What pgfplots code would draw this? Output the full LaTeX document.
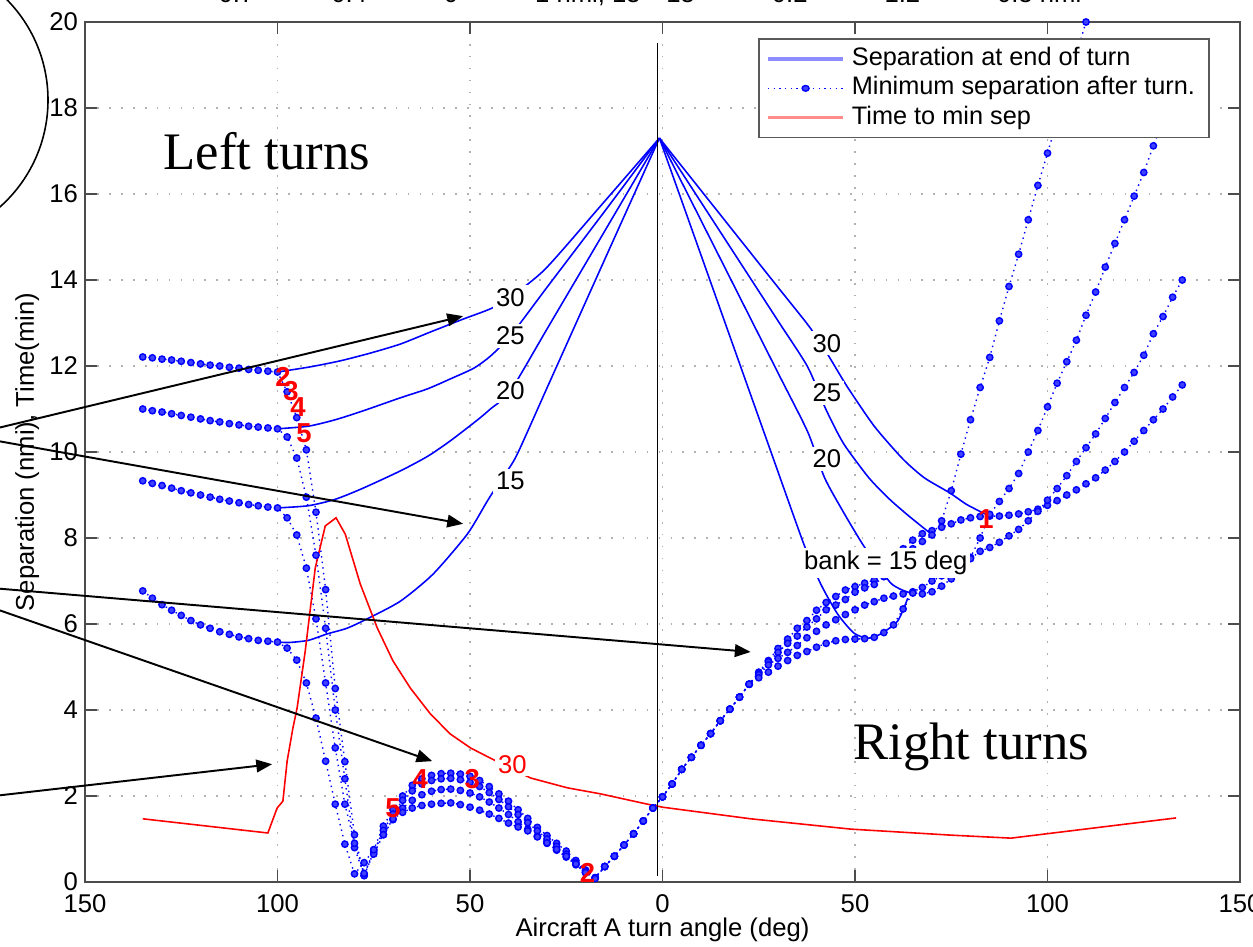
\documentclass[border=0pt]{standalone}
\usepackage{fontspec}
\setmainfont{Liberation Sans}
\newfontfamily\timesfont{Liberation Serif}
\usepackage{pgfplots}
\pgfplotsset{compat=1.18}
\usetikzlibrary{arrows.meta}

\newcommand{\fs}{\fontsize{7.3}{8.5}\selectfont}

\pgfplotsset{
  sepend/.style={blue, line width=0.45pt, smooth, tension=0.4, forget plot},
  minsep/.style={blue, line width=0.4pt, dash pattern=on 0.4pt off 1.2pt,
    mark=*, mark size=0.9pt, mark options={solid, fill=blue!75, draw=blue}, forget plot},
}
\tikzset{
  curvelab/.style={fill=white, inner sep=0.8pt, font=\fs},
  rednum/.style={red, font=\fontsize{7.8}{9}\selectfont\bfseries, inner sep=0pt},
}

\begin{document}
\begin{tikzpicture}
\useasboundingbox (-0.85,-0.64) rectangle (11.68,8.82);
\clip (-0.85,-0.64) rectangle (11.68,8.82);
\begin{axis}[
  scale only axis,
  width=11.55cm, height=8.6cm,
  xmin=-150, xmax=150, ymin=0, ymax=20,
  xtick={-150,-100,...,150},
  xticklabels={150,100,50,0,50,100,150},
  ytick={0,2,...,20},
  tick align=inside, tick pos=both,
  major tick length=0.12cm,
  tick style={black!70, line width=0.5pt},
  axis line style={black!70, line width=0.6pt},
  grid=major,
  grid style={gray!60, line width=0.5pt, dash pattern=on 0.5pt off 2.9pt},
  tick label style={font=\fs},
  yticklabel style={xshift=1.5pt},
  label style={font=\fs},
  /pgf/number format/assume math mode=true,
  xlabel={Aircraft A turn angle (deg)},
  ylabel={Separation (nmi), Time(min)},
  xlabel style={at={(axis description cs:0.5,-0.056)}, anchor=center},
  ylabel style={at={(axis description cs:-0.050,0.5)}, anchor=center},
  legend style={at={(0.974,0.981)}, anchor=north east,
    font=\fontsize{7.2}{8}\selectfont, draw=black!65, line width=0.5pt,
    fill=white, inner xsep=2pt, inner ysep=1.5pt,
    nodes={inner ysep=0.8pt}},
  legend cell align=left,
  legend image post style={xscale=1.25},
]

% separation at end of turn, left turns
\addplot[sepend] coordinates {(-100,11.86)(-91.5,11.98)(-83.7,12.12)(-75.9,12.3)(-68.1,12.51)(-60.3,12.79)(-51.8,13.09)(-44.7,13.33)(-39.5,13.6)(-30.4,14.26)(-16.1,15.72)(-0.8,17.3)};
\addplot[sepend] coordinates {(-100,10.54)(-92,10.6)(-85,10.75)(-78,10.95)(-68.1,11.26)(-61,11.47)(-55.1,11.7)(-49,11.95)(-44.7,12.23)(-39.5,12.7)(-30,13.83)(-15,15.6)(-0.8,17.3)};
\addplot[sepend] coordinates {(-100,8.7)(-92,8.75)(-85,8.9)(-78,9.15)(-68.1,9.56)(-61,9.9)(-55.1,10.26)(-48,10.75)(-44.7,11.0)(-39.5,11.42)(-30,12.86)(-15,15.14)(-0.8,17.3)};
\addplot[sepend] coordinates {(-100,5.58)(-97,5.57)(-92,5.62)(-87.1,5.77)(-82,5.9)(-76.7,6.12)(-68.1,6.53)(-59.6,7.16)(-50.7,8.09)(-45.5,8.86)(-42,9.35)(-38,9.9)(-30,11.49)(-15,14.48)(-0.8,17.3)};
% separation at end of turn, right turns
\addplot[sepend] coordinates {(-0.8,17.3)(15,15.52)(30,13.83)(38,12.93)(42.7,12.3)(47.9,11.53)(55,10.6)(62.4,9.84)(68,9.4)(74.6,9.05)(79,8.78)(84,8.55)};
\addplot[sepend] coordinates {(-0.8,17.3)(15,15.12)(30,13.05)(37.7,11.98)(42.4,11.0)(47,10.2)(53.6,9.4)(59,8.9)(64,8.51)(69.4,8.12)};
\addplot[sepend] coordinates {(-0.8,17.3)(15,14.5)(30,11.84)(37.7,10.47)(42.1,9.4)(47,8.6)(51.8,7.88)(55.5,7.4)(59.3,6.95)(62,6.8)(64.5,6.72)};
\addplot[sepend] coordinates {(-0.8,17.3)(15,13.32)(28.1,10.02)(36.7,7.86)(41.1,6.93)(45.5,6.23)(49.7,5.79)(53.3,5.67)(56.7,5.77)(61.1,6.07)(63.7,6.6)};

% minimum separation after turn, bank 30
\addplot[minsep] coordinates {(-135,12.21)(-132.5,12.19)(-130,12.16)(-127.5,12.14)(-125,12.11)(-122.5,12.08)(-120,12.05)(-117.5,12.02)(-115,12.0)(-112.5,11.97)(-110,11.95)(-107.5,11.92)(-105,11.9)(-102.5,11.88)(-100,11.86)
(-97.5,11.4)(-95,10.8)(-92.5,10.05)(-90,8.6)(-87.5,6.8)(-85,4.5)(-82.5,2.8)(-80,1.1)(-77.5,0.15)
(-75,0.75)(-72.5,1.3)(-70,1.68)(-67.5,2.0)(-65,2.25)(-62.5,2.4)(-60,2.48)(-57.5,2.52)(-55,2.53)(-52.5,2.51)(-50,2.46)(-47.5,2.36)(-45,2.22)(-42.5,2.05)(-40,1.88)(-37.5,1.68)(-35,1.48)(-32.5,1.27)(-30,1.08)(-27.5,0.9)(-25,0.72)(-22.5,0.5)(-20,0.28)(-17.5,0.1)
(-15,0.36)(-12.5,0.6)(-10,0.86)(-7.5,1.12)(-5,1.42)(-2.5,1.72)(0,1.98)(2.5,2.28)(5,2.62)(7.5,2.9)(10,3.18)(12.5,3.45)(15,3.75)(17.5,4.02)(20,4.3)(22.5,4.6)
(25,4.88)(27.5,5.15)(30,5.43)(32.5,5.65)(35,5.9)(37.5,6.08)(40,6.32)(42.5,6.5)(45,6.64)(47.5,6.79)(50,6.87)(52.5,6.95)(55,7.02)(57.5,7.18)(60,7.52)(62.5,7.75)(65,7.95)(67.5,8.1)(70,8.17)(72.5,8.25)(75,8.33)(77.5,8.42)(80,8.47)(82.5,8.5)(85,8.51)
(87.5,8.51)(90,8.53)(92.5,8.56)(95,8.61)(97.5,8.67)(100,8.76)(102.5,8.87)(105,9.0)(107.5,9.12)(110,9.26)(112.5,9.4)(115,9.58)(117.5,9.78)(120,10.0)(122.5,10.25)(125,10.5)(127.5,10.75)(130,11.0)(132.5,11.28)(135,11.56)};
% bank 25
\addplot[minsep] coordinates {(-135,11.0)(-132.5,10.96)(-130,10.93)(-127.5,10.89)(-125,10.85)(-122.5,10.81)(-120,10.77)(-117.5,10.73)(-115,10.7)(-112.5,10.66)(-110,10.63)(-107.5,10.6)(-105,10.58)(-102.5,10.56)(-100,10.54)
(-97.5,10.35)(-95,9.86)(-92.5,8.95)(-90,7.6)(-87.5,5.9)(-85,4.0)(-82.5,2.4)(-80,0.8)(-77.5,0.15)
(-75,0.7)(-72.5,1.2)(-70,1.58)(-67.5,1.9)(-65,2.12)(-62.5,2.28)(-60,2.36)(-57.5,2.4)(-55,2.41)(-52.5,2.38)(-50,2.32)(-47.5,2.22)(-45,2.08)(-42.5,1.92)(-40,1.75)(-37.5,1.57)(-35,1.38)(-32.5,1.19)(-30,1.0)(-27.5,0.83)(-25,0.65)(-22.5,0.45)(-20,0.25)(-17.5,0.1)
(-15,0.36)(-12.5,0.6)(-10,0.86)(-7.5,1.12)(-5,1.42)(-2.5,1.72)(0,1.98)(2.5,2.28)(5,2.62)(7.5,2.9)(10,3.18)(12.5,3.45)(15,3.75)(17.5,4.02)(20,4.3)(22.5,4.6)
(25,4.86)(27.5,5.12)(30,5.34)(32.5,5.55)(35,5.72)(37.5,5.93)(40,6.12)(42.5,6.33)(45,6.44)(47.5,6.57)(50,6.74)(52.5,6.84)(55,6.92)(57.5,7.1)(60,7.3)(62.5,7.55)(65,7.75)(67.5,7.92)(70,8.07)(72.5,8.4)
(75,9.1)(77.5,9.95)(80,10.75)(82.5,11.5)(85,12.2)(87.5,13.05)(90,13.85)(92.5,14.6)(95,15.4)(97.5,16.2)(100,16.95)(102.5,17.7)(105,18.45)(107.5,19.25)(110,20.0)(112.5,20.75)};
% bank 20
\addplot[minsep] coordinates {(-135,9.33)(-132.5,9.27)(-130,9.22)(-127.5,9.16)(-125,9.1)(-122.5,9.05)(-120,9.0)(-117.5,8.95)(-115,8.9)(-112.5,8.86)(-110,8.82)(-107.5,8.78)(-105,8.75)(-102.5,8.72)(-100,8.7)
(-97.5,8.47)(-95,8.07)(-92.5,7.3)(-90,6.12)(-87.5,4.63)(-85,3.12)(-82.5,1.81)(-80,0.9)(-77.5,0.2)
(-75,0.65)(-72.5,1.1)(-70,1.45)(-67.5,1.72)(-65,1.9)(-62.5,2.03)(-60,2.11)(-57.5,2.15)(-55,2.16)(-52.5,2.13)(-50,2.07)(-47.5,1.98)(-45,1.86)(-42.5,1.72)(-40,1.57)(-37.5,1.4)(-35,1.23)(-32.5,1.06)(-30,0.9)(-27.5,0.74)(-25,0.58)(-22.5,0.4)(-20,0.22)(-17.5,0.1)
(-15,0.36)(-12.5,0.6)(-10,0.86)(-7.5,1.12)(-5,1.42)(-2.5,1.72)(0,1.98)(2.5,2.28)(5,2.62)(7.5,2.9)(10,3.18)(12.5,3.45)(15,3.75)(17.5,4.02)(20,4.3)(22.5,4.6)
(25,4.82)(27.5,5.05)(30,5.2)(32.5,5.34)(35,5.5)(37.5,5.68)(40,5.83)(42.5,5.98)(45,6.1)(47.5,6.22)(50,6.33)(52.5,6.44)(55,6.52)(57.5,6.6)(60,6.65)(62.5,6.7)(65,6.75)(67.5,6.85)(70,7.0)(72.5,7.12)(75,7.25)(77.5,7.38)(80,7.55)(82.5,8.0)
(85,8.55)(87.5,8.85)(90,9.15)(92.5,9.5)(95,10.0)(97.5,10.5)(100,11.05)(102.5,11.6)(105,12.1)(107.5,12.6)(110,13.18)(112.5,13.72)(115,14.3)(117.5,14.85)(120,15.4)(122.5,15.95)(125,16.5)(127.5,17.12)(130,17.7)(132.5,18.25)(135,18.8)};
% bank 15
\addplot[minsep] coordinates {(-135,6.77)(-132.5,6.6)(-130,6.45)(-127.5,6.32)(-125,6.2)(-122.5,6.08)(-120,5.98)(-117.5,5.9)(-115,5.82)(-112.5,5.76)(-110,5.7)(-107.5,5.66)(-105,5.62)(-102.5,5.6)(-100,5.58)
(-97.5,5.44)(-95,5.16)(-92.5,4.63)(-90,3.81)(-87.5,2.81)(-85,1.81)(-82.5,0.88)(-80,0.19)
(-77.5,0.45)(-75,0.75)(-72.5,1.1)(-70,1.47)(-67.5,1.62)(-65,1.72)(-62.5,1.78)(-60,1.81)(-57.5,1.83)(-55,1.84)(-52.5,1.8)(-50,1.74)(-47.5,1.67)(-45,1.58)(-42.5,1.48)(-40,1.37)(-37.5,1.28)(-35,1.19)(-32.5,1.05)(-30,0.91)(-27.5,0.76)(-25,0.6)(-22.5,0.42)(-20,0.22)(-17.5,0.08)
(-15,0.36)(-12.5,0.6)(-10,0.86)(-7.5,1.12)(-5,1.42)(-2.5,1.72)(0,1.98)(2.5,2.28)(5,2.62)(7.5,2.9)(10,3.18)(12.5,3.45)(15,3.75)(17.5,4.02)(20,4.3)(22.5,4.6)
(25,4.75)(27.5,4.88)(30,5.02)(32.5,5.15)(35,5.27)(37.5,5.36)(40,5.46)(42.5,5.55)(45,5.61)(47.5,5.64)(50,5.65)(52.5,5.66)(55,5.69)(57.5,5.8)(60,5.98)(62.5,6.35)(65,6.72)(67.5,6.7)(70,6.75)(72.5,6.88)(75,7.05)(77.5,7.3)(80,7.52)(82.5,7.69)
(85,7.78)(87.5,7.9)(90,8.05)(92.5,8.2)(95,8.4)(97.5,8.62)(100,8.88)(102.5,9.15)(105,9.45)(107.5,9.78)(110,10.1)(112.5,10.42)(115,10.78)(117.5,11.15)(120,11.5)(122.5,11.85)(125,12.25)(127.5,12.75)(130,13.15)(132.5,13.6)(135,14.0)};

% time to minimum separation
\addplot[red, line width=0.45pt, forget plot] coordinates {(-135,1.47)(-102.5,1.14)(-100.1,1.72)(-98.6,1.88)(-97.5,2.81)(-96,3.58)(-94.9,4.05)(-92.8,5.37)(-90.2,7.3)(-87.6,8.28)(-84.8,8.47)(-82.4,8.09)(-78.5,6.93)(-74.1,5.91)(-70,5.14)(-65.5,4.51)(-60.3,3.91)(-55.1,3.44)(-49.9,3.12)(-44.7,2.88)(-39.5,2.65)(-34.3,2.42)(-24.7,2.19)(-16.1,2.05)(-3.9,1.81)(0,1.74)(22.9,1.47)(48.9,1.23)(74.9,1.09)(90.5,1.02)(133.4,1.49)};

\draw[black, line width=0.45pt] (axis cs:-1.3,0.15) -- (axis cs:-1.3,19.5);

% positions of the labels, drawn after the axis so that they lie above the marks
\coordinate (l30a) at (axis cs:-39.5,13.6);
\coordinate (l25a) at (axis cs:-39.5,12.7);
\coordinate (l20a) at (axis cs:-39.5,11.42);
\coordinate (l15a) at (axis cs:-39.5,9.33);
\coordinate (l30b) at (axis cs:42.7,12.53);
\coordinate (l25b) at (axis cs:42.7,11.37);
\coordinate (l20b) at (axis cs:42.7,9.84);
\coordinate (lbank) at (axis cs:58,7.42);
\coordinate (lred) at (axis cs:-39,2.74);
\coordinate (n2a) at (axis cs:-98.6,11.74);
\coordinate (n3a) at (axis cs:-96.5,11.42);
\coordinate (n4a) at (axis cs:-94.7,11.05);
\coordinate (n5a) at (axis cs:-93.1,10.44);
\coordinate (n4b) at (axis cs:-62.9,2.4);
\coordinate (n3b) at (axis cs:-49.4,2.4);
\coordinate (n5b) at (axis cs:-70,1.72);
\coordinate (n2b) at (axis cs:-19.5,0.2);
\coordinate (n1) at (axis cs:84,8.44);
\coordinate (lt) at (axis cs:-129.8,16.58);
\coordinate (rt) at (axis cs:49.4,2.84);

\coordinate (t1) at (axis cs:-51.8,13.16);
\coordinate (t2) at (axis cs:-51.8,8.33);
\coordinate (t3) at (axis cs:22.9,5.35);
\coordinate (t4) at (axis cs:-59.8,2.81);
\coordinate (t5) at (axis cs:-101.4,2.74);

\addlegendimage{blue!45, line width=1pt}
\addlegendentry{Separation at end of turn}
\addlegendimage{blue, line width=0.4pt, dash pattern=on 0.4pt off 1.2pt, mark=*, mark size=0.8pt, mark options={solid, fill=blue!75, draw=blue}}
\addlegendentry{Minimum separation after turn.}
\addlegendimage{red!45, line width=1pt}
\addlegendentry{Time to min sep}
\end{axis}

\node[curvelab] at (l30a) {30};
\node[curvelab] at (l25a) {25};
\node[curvelab] at (l20a) {20};
\node[curvelab] at (l15a) {15};
\node[curvelab] at (l30b) {30};
\node[curvelab] at (l25b) {25};
\node[curvelab] at (l20b) {20};
\node[curvelab] at (lbank) {bank = 15 deg};
\node[curvelab, text=red] at (lred) {30};

\node[rednum] at (n2a) {2};
\node[rednum] at (n3a) {3};
\node[rednum] at (n4a) {4};
\node[rednum] at (n5a) {5};
\node[rednum] at (n4b) {4};
\node[rednum] at (n3b) {3};
\node[rednum] at (n5b) {5};
\node[rednum] at (n2b) {2};
\node[rednum] at (n1) {1};

\node[anchor=base west, font=\timesfont\fontsize{15}{18}\selectfont, inner sep=0pt] at (lt) {Left turns};
\node[anchor=base west, font=\timesfont\fontsize{15}{18}\selectfont, inner sep=0pt] at (rt) {Right turns};

% annotation arrows and circle
\draw[line width=0.55pt, -{Triangle[length=4.5pt,width=3.6pt]}] (-1.35,4.425) -- (t1);
\draw[line width=0.55pt, -{Triangle[length=4.5pt,width=3.6pt]}] (-1.35,4.495) -- (t2);
\draw[line width=0.55pt, -{Triangle[length=4.5pt,width=3.6pt]}] (-1.35,2.975) -- (t3);
\draw[line width=0.55pt, -{Triangle[length=4.5pt,width=3.6pt]}] (-1.35,2.89) -- (t4);
\draw[line width=0.55pt, -{Triangle[length=4.5pt,width=3.6pt]}] (-1.35,0.81) -- (t5);
\draw[line width=0.45pt] (-1.80,7.82) circle (1.43);

\node[anchor=base, font=\fs] at (5.65,8.79) {0.7\hspace{3em}0.4\hspace{3em}0\hspace{3em}1 nmi, 15\hspace{1em}15\hspace{3em}0.2\hspace{3em}1.2\hspace{3em}0.5 nmi};
\end{tikzpicture}
\end{document}
